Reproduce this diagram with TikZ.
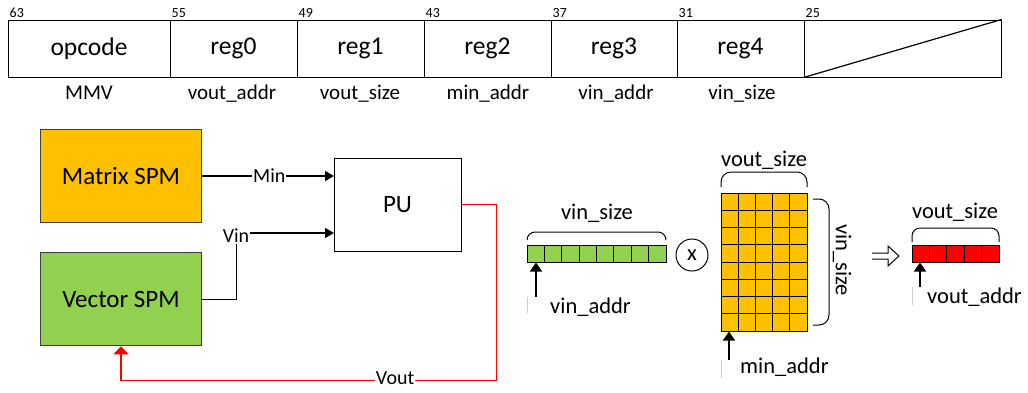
\documentclass[tikz,border=0pt]{standalone}
\usepackage{fontspec}
\setmainfont{Carlito}
\usetikzlibrary{arrows.meta}
\definecolor{spmorange}{HTML}{FFC000}
\definecolor{spmgreen}{HTML}{92D050}
\definecolor{voutred}{HTML}{FF0000}
\tikzset{
  field/.style={draw,line width=1pt,inner sep=0,minimum height=57pt,font=\fontsize{25.5}{28}\selectfont},
  bitno/.style={anchor=south west,inner sep=2pt,font=\fontsize{14}{16}\selectfont},
  fname/.style={anchor=base,inner sep=0,font=\fontsize{21}{25}\selectfont},
  spm/.style={draw=black!75,line width=1pt,minimum width=161pt,minimum height=93pt,inner sep=0,font=\fontsize{25}{30}\selectfont},
  sig/.style={line width=1.6pt,-{Triangle[length=9pt,width=10pt]}},
  lbl/.style={fill=white,inner sep=1pt,font=\fontsize{20}{24}\selectfont},
  vec/.style={draw,line width=1pt,inner sep=0,minimum height=17pt},
  brc/.style={line width=1pt,rounded corners=8pt},
  ptr/.style={line width=1.6pt,-{Triangle[length=9pt,width=12pt]}},
  dim/.style={inner sep=0,font=\fontsize{22.5}{26}\selectfont},
  stub/.style={gray!40,line width=0.8pt}
}
\begin{document}
\begin{tikzpicture}[x=1pt,y=-1pt]
\useasboundingbox (0,0) rectangle (1028,392);
% instruction word
\node[field,minimum width=162pt] (opcode) at (89,48.5) {opcode};
\node[field,minimum width=127pt] (reg0) at (233.5,48.5) {reg0};
\node[field,minimum width=127pt] (reg1) at (360.5,48.5) {reg1};
\node[field,minimum width=127pt] (reg2) at (487.5,48.5) {reg2};
\node[field,minimum width=126pt] (reg3) at (614,48.5) {reg3};
\node[field,minimum width=127pt] (reg4) at (740.5,48.5) {reg4};
\node[field,minimum width=197pt] (unused) at (902.5,48.5) {};
\draw[line width=1.2pt] (unused.south west)--(unused.north east);
\node[bitno] at (opcode.north west) {63};
\node[bitno] at (reg0.north west) {55};
\node[bitno] at (reg1.north west) {49};
\node[bitno] at (reg2.north west) {43};
\node[bitno] at (reg3.north west) {37};
\node[bitno] at (reg4.north west) {31};
\node[bitno] at (unused.north west) {25};
\node[fname] at (89,99) {MMV};
\node[fname] at (232,99) {vout\_addr};
\node[fname] at (360,99) {vout\_size};
\node[fname] at (488,99) {min\_addr};
\node[fname] at (616,99) {vin\_addr};
\node[fname] at (742,99) {vin\_size};
% datapath
\node[spm,fill=spmorange] (mspm) at (121,176) {Matrix SPM};
\node[spm,fill=spmgreen] (vspm) at (121,299.3) {Vector SPM};
\node[draw,line width=1pt,minimum width=127pt,minimum height=93pt,inner sep=0,font=\fontsize{25}{30}\selectfont] (pu) at (397.5,204.5) {PU};
\coordinate (pumin) at (334,176);
\coordinate (puvin) at (334,233);
\coordinate (vinbend) at (236.5,233);
\coordinate (voutturn) at (496.5,380.5);
\draw[sig] (mspm.east) -- node[lbl,pos=.51]{Min} (pumin);
\draw[sig] (vspm.east) -| (vinbend) -- (puvin);
\node[lbl] (vinlbl) at (236,236) {Vin};
\draw[sig,voutred,line width=1.4pt,-{Triangle[length=8pt,width=15pt]}] (pu.east) -| (voutturn) -| node[lbl,text=black,pos=.135,yshift=2pt]{Vout} (vspm.south);
% vector x matrix
\node[vec,fill=spmgreen,minimum width=139pt] (vinvec) at (596.5,253.5) {};
\foreach \i in {1,...,7} \draw[line width=1pt] ({527+\i*17.375},245)--++(0,17);
\draw[brc] (527,240)--(527,232)--(666,232)--(666,240);
\node[dim,anchor=base] at (597,219) {vin\_size};
\coordinate (vinptr) at (536,297);
\draw[ptr] (vinptr)--(vinptr |- vinvec.south);
\draw[stub] (527,297)--(527,313);
\node[dim,anchor=base west] at (550,313) {vin\_addr};
\node[circle,draw,line width=1pt,minimum size=32pt,dim] (times) at (692,255) {x};
\node[vec,fill=spmorange,minimum width=86pt,minimum height=138pt] (minmat) at (764,262) {};
\foreach \i in {1,...,4} \draw[line width=1pt] ({721+\i*17.2},193)--++(0,138);
\foreach \j in {1,...,7} \draw[line width=1pt] (721,{193+\j*17.25})--++(86,0);
\draw[brc,rounded corners=10pt] (721,187)--(721,172)--(807,172)--(807,187);
\node[dim,anchor=base] at (764,166) {vout\_size};
\draw[brc,rounded corners=10pt] (813,199)--(829,199)--(829,325)--(813,325);
\node[dim,rotate=-90] at (842,260) {vin\_size};
\coordinate (minptr) at (729,360);
\draw[ptr] (minptr)--(minptr |- minmat.south);
\draw[stub] (721,360)--(721,378);
\node[dim,anchor=base west] at (740,373) {min\_addr};
\draw[line width=1pt] (872,253)--(888,253)--(888,246)--(899,256)--(888,266)--(888,259)--(872,259);
\node[vec,fill=voutred,minimum width=87pt] (voutvec) at (955.5,253.5) {};
\foreach \i in {1,...,4} \draw[line width=1pt] ({912+\i*17.4},245)--++(0,17);
\draw[brc] (912,242)--(912,228)--(999,228)--(999,242);
\node[dim,anchor=base] at (955,218) {vout\_size};
\coordinate (voutptr) at (920,287);
\draw[ptr] (voutptr)--(voutptr |- voutvec.south);
\draw[stub] (912,287)--(912,305);
\node[dim,anchor=base west] at (927,303) {vout\_addr};
\end{tikzpicture}
\end{document}
